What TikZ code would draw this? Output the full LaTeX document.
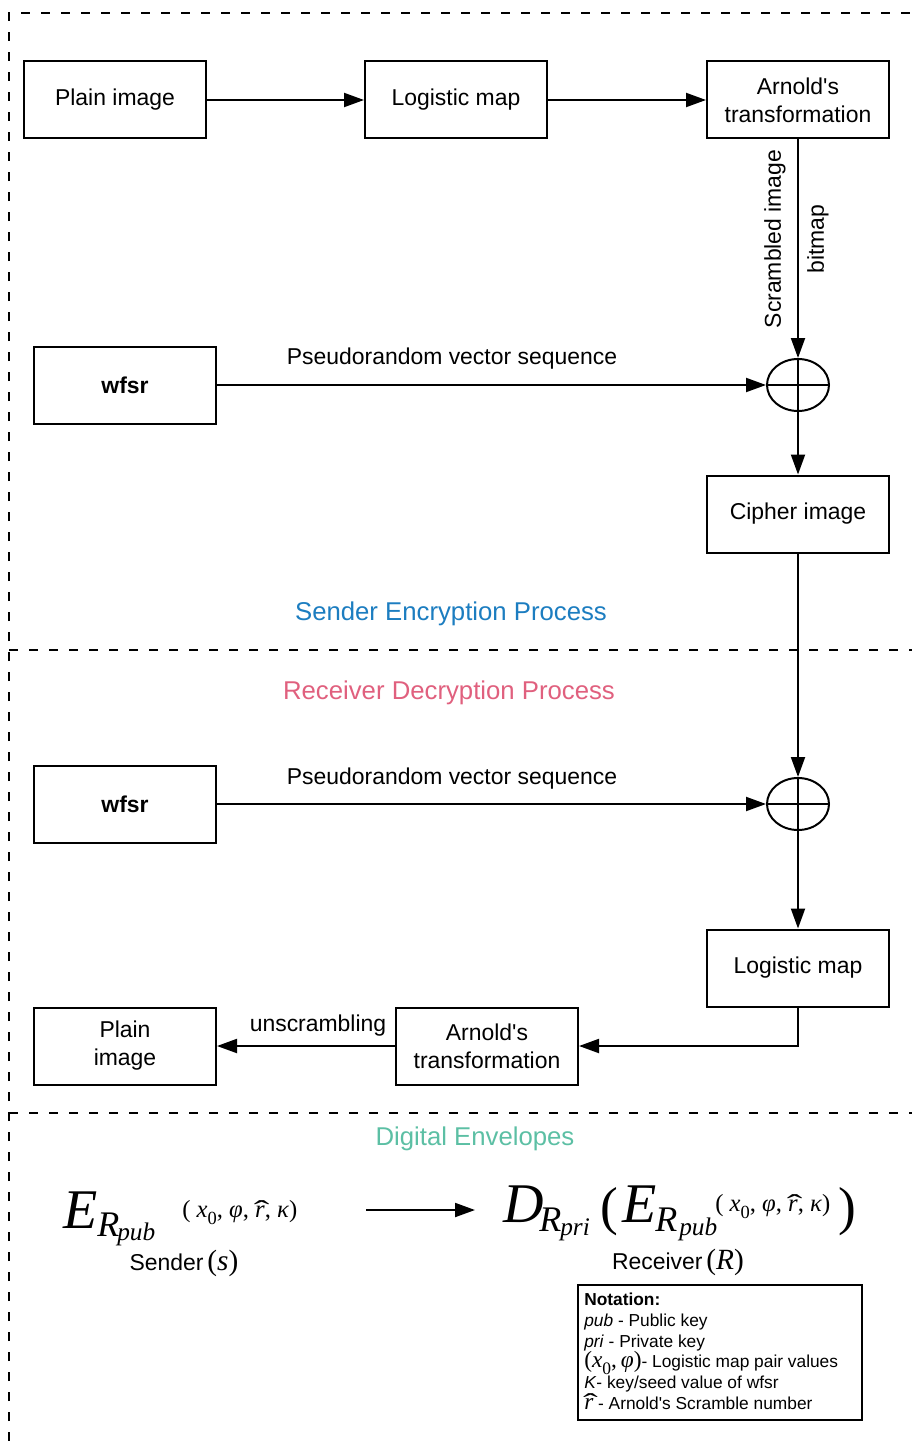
\documentclass[tikz,border=0pt]{standalone}
\usepackage{fontspec}
\setmainfont{Liberation Sans}
\newfontfamily\tms{Liberation Serif}
\usetikzlibrary{arrows.meta,shapes.geometric}
\definecolor{sendblue}{HTML}{1C7DC0}
\definecolor{recvpink}{HTML}{E0607E}
\definecolor{envteal}{HTML}{5CBFA4}
% text sizes
\newcommand\boxfont{\fontsize{17.2}{21}\selectfont}
\newcommand\titlefont{\fontsize{19.3}{23}\selectfont}
% r with a wide hat, and a lowered subscript
\newcommand\rhat{{\ooalign{\itshape r\cr\hidewidth\kern0.14em\raisebox{-0.1em}{\upshape\scalebox{1.9}[1.1]{ˆ}}\hidewidth\cr}}}
\newcommand\lowsub[1]{\raisebox{-0.3em}{\scalebox{0.75}{#1}}}
\newcommand\keyargs{(\ \textit{x}\lowsub{0}, \textit{φ}, \rhat, \textit{κ})}
\newcommand\arnold{Arnold\textquotesingle s}
\tikzset{
  block/.style={draw, line width=1.5pt, minimum width=136.5pt, minimum height=57.75pt,
    align=center, inner sep=2pt, font=\boxfont},
  xorop/.style={draw, ellipse, line width=1.5pt, minimum width=46.5pt, minimum height=39pt, inner sep=0pt},
  arr/.style={line width=1.5pt, -{Triangle[length=15pt,width=10.5pt]}},
  frame/.style={line width=1.5pt, dash pattern=on 7pt off 8pt},
  lbl/.style={font=\boxfont, inner sep=1pt},
  title/.style={font=\titlefont, inner sep=1pt},
  piece/.style={anchor=base west, inner sep=0pt},
}
\begin{document}
\begin{tikzpicture}[x=0.75pt,y=-0.75pt]
\useasboundingbox (0,0) rectangle (912,1441);

% section frame
\draw[frame] (9,1441) -- (9,13) -- (912,13);
\draw[frame] (9,650) -- (912,650);
\draw[frame] (9,1113) -- (912,1113);

% encryption side
\node[block] (plain1) at (115,100) {Plain image};
\node[block] (logistic1) at (456,100) {Logistic map};
\node[block] (arnold1) at (798,100) {\arnold\\transformation};
\node[block, font=\boxfont\bfseries] (wfsr1) at (125,385) {wfsr};
\node[xorop] (xor1) at (798,385) {};
\draw[line width=1.5pt] (xor1.north) -- (xor1.south) (xor1.west) -- (xor1.east);
\node[block] (cipher) at (798,514) {Cipher image};

\draw[arr] (plain1) -- (logistic1);
\draw[arr] (logistic1) -- (arnold1);
\draw[arr] (arnold1) -- (xor1);
\draw[arr] (wfsr1) -- (xor1);
\draw[arr] (xor1) -- (cipher);

\node[lbl, rotate=90] (scr) at (775,239) {Scrambled image};
\node[lbl, rotate=90] (bmp) at (818,239) {bitmap};
\node[lbl] (prs1) at (452,359) {Pseudorandom vector sequence};
\node[title, text=sendblue] (sendt) at (451,614) {Sender Encryption Process};

% decryption side
\node[title, text=recvpink] (recvt) at (449,693) {Receiver Decryption Process};
\node[block, font=\boxfont\bfseries] (wfsr2) at (125,804) {wfsr};
\node[xorop] (xor2) at (798,804) {};
\draw[line width=1.5pt] (xor2.north) -- (xor2.south) (xor2.west) -- (xor2.east);
\node[block] (logistic2) at (798,968) {Logistic map};
\node[block] (arnold2) at (487,1046) {\arnold\\transformation};
\node[block] (plain2) at (125,1046) {Plain\\image};

\draw[arr] (cipher) -- (xor2);
\draw[arr] (wfsr2) -- (xor2);
\draw[arr] (xor2) -- (logistic2);
\draw[arr] (logistic2.south) |- (arnold2.east);
\draw[arr] (arnold2) -- (plain2);

\node[lbl] (prs2) at (452,779) {Pseudorandom vector sequence};
\node[lbl] (unscr) at (318,1026) {unscrambling};

% digital envelopes
\node[title, text=envteal] (envt) at (475,1139) {Digital Envelopes};

\node[piece] (eS) at (63,1228) {\tms\itshape\fontsize{42}{42}\selectfont E};
\node[piece] (rS) at (97,1236) {\tms\itshape\fontsize{27}{27}\selectfont R};
\node[piece] (pubS) at (117,1240) {\tms\itshape\fontsize{19}{19}\selectfont pub};
\node[piece] (argS) at (182,1217) {\tms\fontsize{18.5}{18.5}\selectfont\keyargs};
\node[lbl] (sender) at (184,1263) {Sender\,{\tms\fontsize{22}{22}\selectfont(\textit{s})}};

\coordinate (envA) at (366,1210);
\coordinate (envB) at (475,1210);
\draw[arr] (envA) -- (envB);

\node[piece] (dR) at (503,1222) {\tms\itshape\fontsize{42}{42}\selectfont D};
\node[piece] (rR) at (539,1231) {\tms\itshape\fontsize{27}{27}\selectfont R};
\node[piece] (priR) at (560,1235) {\tms\itshape\fontsize{19}{19}\selectfont pri};
\node[piece] (lpar) at (600,1224) {\tms\fontsize{40}{40}\selectfont(};
\node[piece] (eR) at (622,1222) {\tms\itshape\fontsize{42}{42}\selectfont E};
\node[piece] (rR2) at (655,1231) {\tms\itshape\fontsize{27}{27}\selectfont R};
\node[piece] (pubR) at (679,1235) {\tms\itshape\fontsize{19}{19}\selectfont pub};
\node[piece] (argR) at (715,1211) {\tms\fontsize{18.5}{18.5}\selectfont\keyargs};
\node[piece] (rpar) at (838,1224) {\tms\fontsize{40}{40}\selectfont)};
\node[lbl] (receiver) at (678,1262) {Receiver\,{\tms\fontsize{22}{22}\selectfont(\textit{R})}};

% notation box
\node[draw, line width=1.5pt, minimum width=213pt, minimum height=101.25pt, inner sep=0pt] (notebox) at (720,1352.5) {};
\node[anchor=north west, inner sep=0pt, align=left, font=\fontsize{13}{15.5}\selectfont] (notes) at (584,1293) {%
\textbf{Notation:}\\
\textit{pub} - Public key\\
\textit{pri} - Private key\\
{\tms\fontsize{17.5}{15.5}\selectfont(\textit{x}\lowsub{0},\,\textit{φ})}- Logistic map pair values\\
\textit{K}- key/seed value of wfsr\\
{\tms\fontsize{17.5}{15.5}\selectfont\rhat} - \arnold\ Scramble number};
\end{tikzpicture}
\end{document}
